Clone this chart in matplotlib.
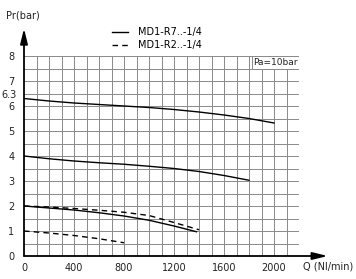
import numpy as np
import matplotlib.pyplot as plt
from matplotlib.patches import Rectangle

# curves (Q in Nl/min, Pr in bar)
q_r7_hi = [0, 200, 400, 600, 800, 1000, 1200, 1400, 1600, 1800, 2000]
pr_r7_hi = [6.3, 6.2, 6.12, 6.06, 6.0, 5.94, 5.86, 5.76, 5.64, 5.5, 5.32]

q_r7_mid = [0, 200, 400, 600, 800, 1000, 1200, 1400, 1600, 1800]
pr_r7_mid = [4.0, 3.89, 3.8, 3.73, 3.67, 3.59, 3.5, 3.38, 3.22, 3.03]

q_r7_lo = [0, 200, 400, 600, 800, 1000, 1200, 1380]
pr_r7_lo = [2.0, 1.92, 1.84, 1.73, 1.6, 1.43, 1.2, 0.97]

q_r2_hi = [0, 200, 400, 600, 800, 1000, 1200, 1400]
pr_r2_hi = [2.0, 1.96, 1.9, 1.83, 1.75, 1.62, 1.34, 1.05]

q_r2_lo = [0, 200, 400, 600, 800]
pr_r2_lo = [1.0, 0.92, 0.82, 0.69, 0.53]

x_ticks = [0, 400, 800, 1200, 1600, 2000]
y_ticks = [0, 1, 2, 3, 4, 5, 6, 7, 8]

grid_c = '#8a8a8a'
text_c = '#222222'

plt.rcParams['font.family'] = ['DejaVu Sans']
fig = plt.figure(figsize=(3.56, 2.79), dpi=100)
ax = fig.add_axes([24 / 356, 23 / 279, 275 / 356, 200 / 279])

ax.set_xlim(0, 2200)
ax.set_ylim(0, 8)

# grid
for xv in np.arange(100, 2201, 100):
    ax.axvline(xv, color=grid_c, lw=0.7, zorder=1)
for yv in np.arange(0.5, 8.01, 0.5):
    ax.axhline(yv, color=grid_c, lw=0.7, zorder=1)

for s in ax.spines.values():
    s.set_visible(False)

ax.plot(q_r7_hi, pr_r7_hi, color='black', lw=1.0, zorder=3,
        label='MD1-R7..-1/4')
ax.plot(q_r7_mid, pr_r7_mid, color='black', lw=1.0, zorder=3)
ax.plot(q_r7_lo, pr_r7_lo, color='black', lw=1.0, zorder=3)
ax.plot(q_r2_hi, pr_r2_hi, color='black', lw=1.0, ls=(0, (4, 3)), zorder=3,
        label='MD1-R2..-1/4')
ax.plot(q_r2_lo, pr_r2_lo, color='black', lw=1.0, ls=(0, (4, 3)), zorder=3)

# axes with arrows
arrow = dict(arrowstyle='-|>,head_length=0.9,head_width=0.22',
             color='black', lw=1.3, shrinkA=0, shrinkB=0)
ax.annotate('', xy=(2430, 0), xytext=(0, 0), annotation_clip=False,
            arrowprops=arrow, zorder=4)
ax.annotate('', xy=(0, 9.1), xytext=(0, 0), annotation_clip=False,
            arrowprops=arrow, zorder=4)

ax.set_xticks(x_ticks)
ax.set_yticks(y_ticks)
ax.tick_params(length=0, labelsize=7, colors=text_c)
ax.tick_params(axis='y', pad=7)
ax.tick_params(axis='x', pad=5)
ax.text(-55, 6.42, '6.3', fontsize=7, ha='right', va='center',
        color=text_c, clip_on=False)

# Pa=10bar label cell
ax.add_patch(Rectangle((1820, 7.5), 380, 0.5, facecolor='white',
                       edgecolor=grid_c, lw=0.7, zorder=2))
ax.text(2012, 7.74, 'Pa=10bar', fontsize=6.5, ha='center', va='center',
        color=text_c, zorder=5)

fig.text(6 / 356, 1 - 15 / 279, 'Pr(bar)', fontsize=7, ha='left',
         va='center', color=text_c)
ax.text(2230, -0.42, 'Q (Nl/min)', fontsize=7, ha='left', va='center',
        color=text_c, clip_on=False)

ax.legend(loc='lower left', bbox_to_anchor=(0.3, 1.0), frameon=False,
          fontsize=7, handlelength=1.6, handletextpad=1.0,
          labelspacing=0.3, borderaxespad=0.2)

fig.savefig('out.png', dpi=100)
